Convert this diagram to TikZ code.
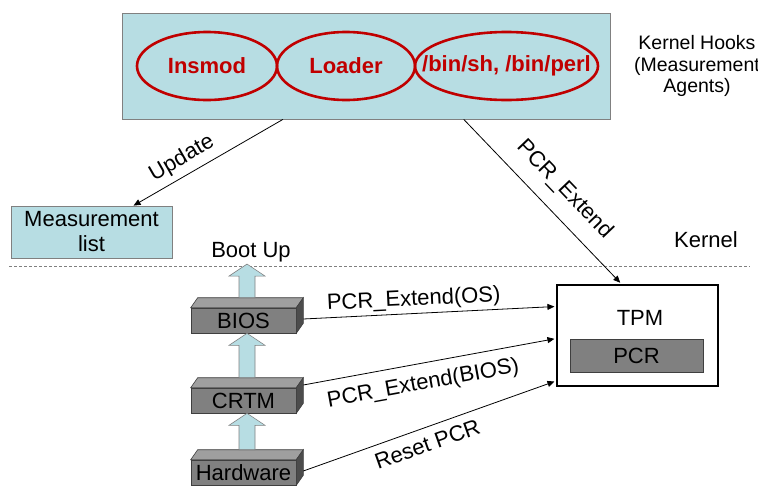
\documentclass[tikz,border=0pt]{standalone}
\usepackage{fontspec}
\setmainfont{Liberation Sans}
\usetikzlibrary{arrows.meta,calc,positioning,shapes.geometric}
\definecolor{hookblue}{HTML}{B7DDE3}
\definecolor{hookred}{HTML}{C00000}
\definecolor{blockgray}{HTML}{808080}
\definecolor{blockedge}{HTML}{3F3F3F}

\begin{document}
\begin{tikzpicture}[x=1pt,y=-1pt,>={Triangle[length=7pt,width=6pt]},
  font=\fontsize{22}{25}\selectfont,
  lbox/.style={draw=gray,fill=hookblue,line width=.8pt},
  hook/.style={ellipse,draw=hookred,line width=2.6pt,inner sep=0pt,
    minimum height=68pt,text=hookred,font=\fontsize{22}{25}\selectfont\bfseries},
  block/.style={draw=blockedge,fill=blockgray,line width=.6pt,
    minimum width=105pt,minimum height=25pt,inner sep=0pt},
  blocktop/.style={draw=blockedge,fill=gray!75,line width=.6pt},
  blockside/.style={draw=blockedge,fill=gray!140,line width=.6pt},
  bootarrow/.style={draw=gray,fill=hookblue,line width=.6pt},
  flow/.style={->,line width=.8pt},
  lbl/.style={sloped,inner sep=0pt}]
\useasboundingbox (0,0) rectangle (758,485);
\node[lbox,minimum width=488pt,minimum height=106pt] (hooks) at (366,66) {};
\node[hook,minimum width=140pt] (insmod) at (207,66) {\makebox[0pt]{Insmod}};
\node[hook,minimum width=138pt] (loader) at (346,66) {\makebox[0pt]{Loader}};
\node[hook,minimum width=183pt] (shells) at (506.5,66) {\makebox[0pt]{/bin/sh, /bin/perl}};
\node[align=center,inner sep=0pt,font=\fontsize{19.5}{21.7}\selectfont] (agents)
  at (697,66) {Kernel Hooks\\(Measurement\\Agents)};
\node[lbox,minimum width=161pt,minimum height=52pt,align=center,inner sep=0pt]
  (mlist) at (91.5,232) {Measurement\\list};
\coordinate (dashl) at (9,266);
\coordinate (dashr) at (750,266);
\draw[gray,dash pattern=on 3pt off 2pt,line width=.7pt] (dashl) -- (dashr);
\node (kernel) at (706,240) {Kernel};
\node[inner sep=2pt] (boot) at (251,252) {Boot Up};
\node[draw,line width=2.6pt,minimum width=161pt,minimum height=101pt] (tpm)
  at (637.5,335.5) {};
\node (tpmlabel) at (640,318) {TPM};
\node[draw=blockedge,fill=blockgray,line width=.6pt,minimum width=133pt,
  minimum height=33pt] (pcr) at (636.5,355.5) {PCR};
\node[block] (bios) at (243.5,320.5) {BIOS};
\node[block] (crtm) at (243.5,400.5) {CRTM};
\node[block] (hw) at (243.5,472.5) {Hardware};
\foreach \b in {bios,crtm,hw}{
  \filldraw[blocktop] (\b.north west) -- ++(7,-10) -- ($(\b.north east)+(7,-10)$)
    -- (\b.north east) -- cycle;
  \filldraw[blockside] (\b.north east) -- ++(7,-10) -- ($(\b.south east)+(7,-10)$)
    -- (\b.south east) -- cycle;
}
\foreach \lo/\hi in {hw/crtm,crtm/bios,bios/boot}{
  \coordinate (base) at ($(\lo.north)+(3.5,-10)$);
  \coordinate (tip) at (base |- \hi.south);
  \filldraw[bootarrow] ($(base)+(-8,0)$) -- ($(tip)+(-8,12)$) -- ($(tip)+(-18,12)$)
    -- (tip) -- ($(tip)+(18,12)$) -- ($(tip)+(8,12)$) -- ($(base)+(8,0)$) -- cycle;
}
\draw[flow] ($(hooks.south west)!.33!(hooks.south east)$)
  -- node[lbl,above=6pt,pos=.62] {Update} ($(mlist.north west)!.76!(mlist.north east)$);
\draw[flow,shorten >=1.3pt] ($(hooks.south west)!.70!(hooks.south east)$)
  -- node[lbl,above=14pt,pos=.53] {PCR\_Extend} ($(tpm.north west)!.40!(tpm.north east)$);
\draw[flow,shorten >=1.3pt] ([shift={(7,-1.5)}]bios.east)
  -- node[lbl,above=3pt,pos=.44] {PCR\_Extend(OS)} ($(tpm.north west)!.22!(tpm.south west)$);
\draw[flow,shorten >=1.3pt] ([shift={(7,-15.5)}]crtm.east)
  -- node[lbl,below=10pt,pos=.46] {PCR\_Extend(BIOS)} ($(tpm.north west)!.53!(tpm.south west)$);
\draw[flow,shorten >=1.3pt] ([shift={(7,-1.5)}]hw.east)
  -- node[lbl,below=8pt,pos=.47] {Reset PCR} ($(tpm.north west)!.94!(tpm.south west)$);
\end{tikzpicture}
\end{document}
